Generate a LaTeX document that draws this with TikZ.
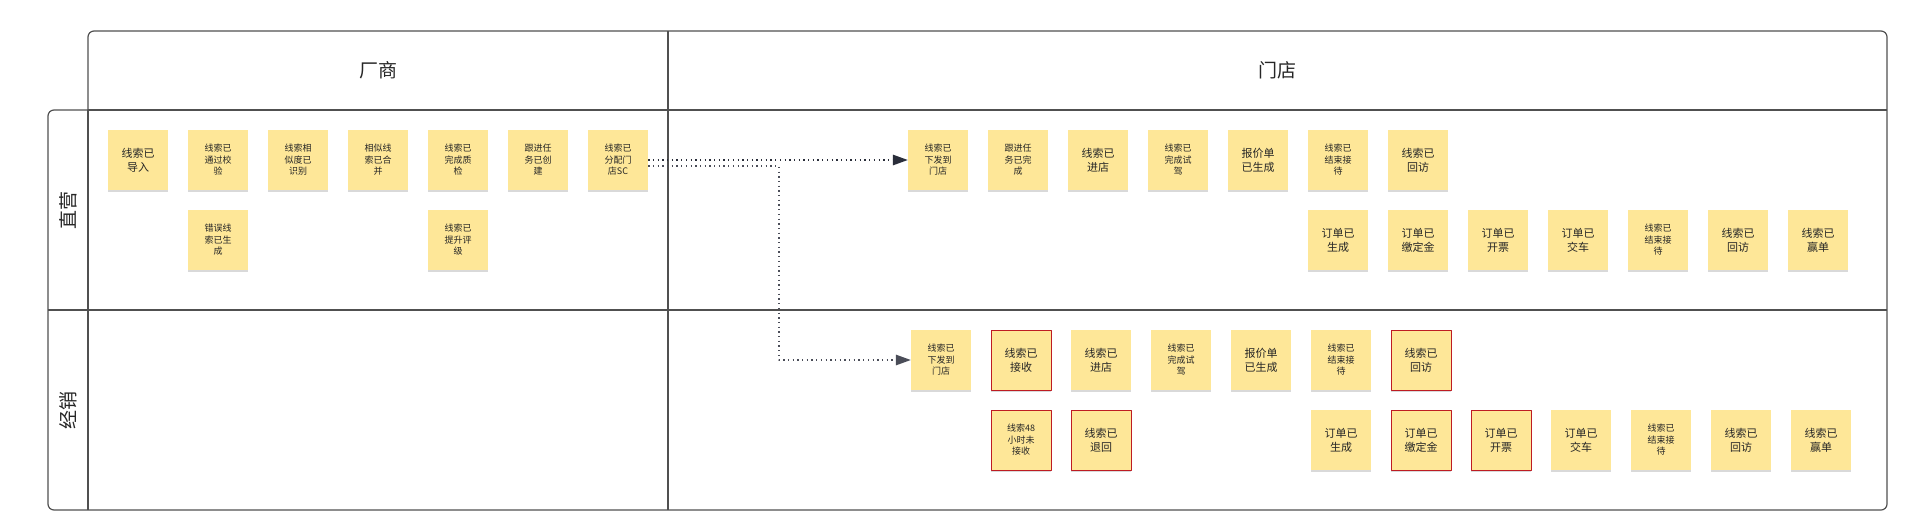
\documentclass[tikz,border=0pt]{standalone}
\usepackage{fontspec}
\setmainfont{Noto Sans CJK SC}
\usetikzlibrary{arrows.meta,shadows}
\definecolor{stickyfill}{RGB}{254,231,152}
\definecolor{stickyred}{RGB}{190,28,34}
\definecolor{framegray}{RGB}{80,80,80}
\definecolor{tipgray}{RGB}{42,46,58}
\tikzset{
  sticky/.style={minimum width=60pt,minimum height=60pt,inner sep=0pt,fill=stickyfill,align=center,text=black!85,
    font=\fontsize{9}{11.5}\selectfont,drop shadow={shadow xshift=0pt,shadow yshift=-2pt,opacity=0.3,fill=gray}},
  stickybig/.style={sticky,font=\fontsize{11}{14}\selectfont},
  flagged/.style={draw=stickyred,line width=1pt},
  headlabel/.style={font=\fontsize{19}{22}\selectfont,text=black!85},
  flowline/.style={draw=tipgray,line width=1.3pt,dash pattern=on 1.3pt off 3.4pt,-{Triangle[length=15pt,width=10.5pt]}},
}
\begin{document}
\begin{tikzpicture}[line cap=butt,line join=round,x=1pt,y=-1pt]
\useasboundingbox (0,0) rectangle (1921,520);
\draw[framegray,line width=1.2pt,rounded corners=6pt] (88,110)-- (88,31)-- (1887,31)-- (1887,510)-- (48,510)-- (48,110)-- (88,110);
\draw[framegray,line width=1.2pt] (88,110)-- (88,510);
\draw[framegray,line width=1.2pt] (88,110)-- (1887,110);
\draw[framegray,line width=1.2pt] (48,310)-- (1887,310);
\draw[framegray,line width=1.2pt] (668,31)-- (668,510);
\node[headlabel] (vendor) at (378,70) {厂商};
\node[headlabel] (store) at (1277,70) {门店};
\node[headlabel,rotate=90] (direct) at (68,210) {直营};
\node[headlabel,rotate=90] (dealer) at (68,410) {经销};
\node[stickybig] (imported) at (138,160) {线索已\\导入};
\node[sticky] (verified) at (218,160) {线索已\\通过校\\验};
\node[sticky] (simfound) at (298,160) {线索相\\似度已\\识别};
\node[sticky] (merged) at (378,160) {相似线\\索已合\\并};
\node[sticky] (qcdone) at (458,160) {线索已\\完成质\\检};
\node[sticky] (taskmade) at (538,160) {跟进任\\务已创\\建};
\node[sticky] (assigned) at (618,160) {线索已\\分配门\\店SC};
\node[sticky] (errlead) at (218,240) {错误线\\索已生\\成};
\node[sticky] (upgraded) at (458,240) {线索已\\提升评\\级};
\node[sticky] (zysent) at (938,160) {线索已\\下发到\\门店};
\node[sticky] (zytask) at (1018,160) {跟进任\\务已完\\成};
\node[stickybig] (zyvisit) at (1098,160) {线索已\\进店};
\node[sticky] (zydrive) at (1178,160) {线索已\\完成试\\驾};
\node[stickybig] (zyquote) at (1258,160) {报价单\\已生成};
\node[sticky] (zyend) at (1338,160) {线索已\\结束接\\待};
\node[stickybig] (zycall) at (1418,160) {线索已\\回访};
\node[stickybig] (zyorder) at (1338,240) {订单已\\生成};
\node[stickybig] (zydeposit) at (1418,240) {订单已\\缴定金};
\node[stickybig] (zyinvoice) at (1498,240) {订单已\\开票};
\node[stickybig] (zydeliver) at (1578,240) {订单已\\交车};
\node[sticky] (zyend2) at (1658,240) {线索已\\结束接\\待};
\node[stickybig] (zycall2) at (1738,240) {线索已\\回访};
\node[stickybig] (zywon) at (1818,240) {线索已\\赢单};
\node[sticky] (jxsent) at (941,360) {线索已\\下发到\\门店};
\node[stickybig,flagged] (jxtaken) at (1021,360) {线索已\\接收};
\node[stickybig] (jxvisit) at (1101,360) {线索已\\进店};
\node[sticky] (jxdrive) at (1181,360) {线索已\\完成试\\驾};
\node[stickybig] (jxquote) at (1261,360) {报价单\\已生成};
\node[sticky] (jxend) at (1341,360) {线索已\\结束接\\待};
\node[stickybig,flagged] (jxcall) at (1421,360) {线索已\\回访};
\node[sticky,flagged] (jxlate) at (1021,440) {线索48\\小时未\\接收};
\node[stickybig,flagged] (jxback) at (1101,440) {线索已\\退回};
\node[stickybig] (jxorder) at (1341,440) {订单已\\生成};
\node[stickybig,flagged] (jxdeposit) at (1421,440) {订单已\\缴定金};
\node[stickybig,flagged] (jxinvoice) at (1501,440) {订单已\\开票};
\node[stickybig] (jxdeliver) at (1581,440) {订单已\\交车};
\node[sticky] (jxend2) at (1661,440) {线索已\\结束接\\待};
\node[stickybig] (jxcall2) at (1741,440) {线索已\\回访};
\node[stickybig] (jxwon) at (1821,440) {线索已\\赢单};
\coordinate (bend) at (779,360);
\draw[flowline] (assigned.east)-- (zysent.west);
\draw[flowline,draw=tipgray!85] ([yshift=-6pt]assigned.east) -| (bend)-- (jxsent.west);
\end{tikzpicture}
\end{document}
